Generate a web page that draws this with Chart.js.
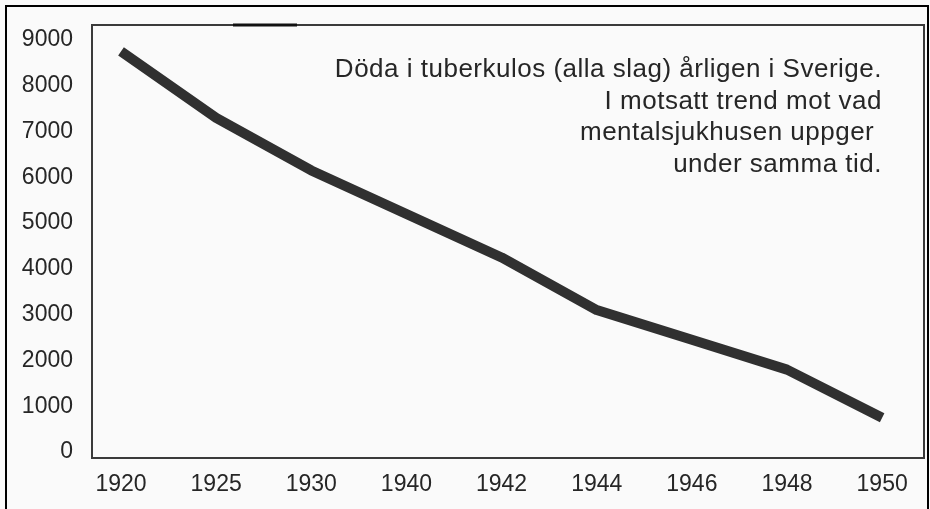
<!DOCTYPE html>
<html>
<head>
<meta charset="utf-8">
<script src="https://cdn.jsdelivr.net/npm/chart.js@4.4.1/dist/chart.umd.min.js"></script>
<style>
  html, body { margin: 0; padding: 0; background: #fafafa; overflow: hidden; }
  #wrap { position: relative; width: 930px; height: 509px; }
  #frame { position: absolute; left: 5px; top: 5px; width: 924px; height: 520px; border: 2px solid #000; box-sizing: border-box; pointer-events: none; }
  canvas { position: absolute; left: 0; top: 0; }
</style>
</head>
<body>
<div id="wrap">
  <canvas id="chart" width="930" height="509"></canvas>
  <div id="frame"></div>
</div>
<script>
const years = ['1920', '1925', '1930', '1940', '1942', '1944', '1946', '1948', '1950'];
const deaths = [8750, 7300, 6150, 5200, 4250, 3100, 2450, 1800, 750];
const yTicks = [0, 1000, 2000, 3000, 4000, 5000, 6000, 7000, 8000, 9000];
const noteLines = [
  'Döda i tuberkulos (alla slag) årligen i Sverige.',
  'I motsatt trend mot vad',
  'mentalsjukhusen uppger ',
  'under samma tid.'
];

const textColor = '#262626';
const font = { family: '"Liberation Sans", Arial, sans-serif', size: 23 };

// box round the plot + the note in the top right corner
const plotFrame = {
  id: 'plotFrame',
  afterDraw(chart) {
    const { ctx, chartArea: a } = chart;
    ctx.save();
    ctx.strokeStyle = '#3a3a3a';
    ctx.lineWidth = 2;
    ctx.strokeRect(a.left, a.top, a.right - a.left, a.bottom - a.top);
    // darker scan streak on the top edge
    ctx.strokeStyle = '#111';
    ctx.lineWidth = 3;
    ctx.beginPath();
    ctx.moveTo(a.left + 141, a.top);
    ctx.lineTo(a.left + 205, a.top);
    ctx.stroke();

    ctx.fillStyle = textColor;
    ctx.font = '26px "Liberation Sans", Arial, sans-serif';
    ctx.letterSpacing = '0.5px';
    ctx.textAlign = 'right';
    ctx.textBaseline = 'middle';
    noteLines.forEach((line, i) => {
      ctx.fillText(line, a.right - 42, a.top + 45 + i * 31.5);
    });
    ctx.restore();
  }
};

const noPad = (scale) => {
  scale.paddingTop = 0;
  scale.paddingBottom = 0;
  scale.paddingLeft = 0;
  scale.paddingRight = 0;
};

new Chart(document.getElementById('chart'), {
  type: 'line',
  data: {
    datasets: [{
      data: deaths.map((v, i) => ({ x: i, y: v })),
      borderColor: '#303030',
      borderWidth: 10,
      borderCapStyle: 'butt',
      borderJoinStyle: 'round',
      pointRadius: 0,
      tension: 0,
      fill: false
    }]
  },
  options: {
    responsive: false,
    animation: false,
    events: [],
    layout: { padding: { top: 25, right: 6, left: 0, bottom: 0 } },
    plugins: { legend: { display: false }, tooltip: { enabled: false } },
    scales: {
      x: {
        type: 'linear',
        min: -0.305,
        max: 8.44,
        afterBuildTicks: (scale) => { scale.ticks = years.map((_, i) => ({ value: i })); },
        afterFit: (scale) => { scale.height = 51; noPad(scale); },
        grid: { display: false, drawTicks: false },
        border: { display: false },
        ticks: {
          padding: 13,
          color: textColor,
          font: font,
          maxRotation: 0,
          autoSkip: false,
          callback: (v) => years[v]
        }
      },
      y: {
        min: -131,
        max: 9328,
        afterBuildTicks: (scale) => { scale.ticks = yTicks.map(v => ({ value: v })); },
        afterFit: (scale) => { scale.width = 92; noPad(scale); },
        grid: { display: false, drawTicks: false },
        border: { display: false },
        ticks: {
          padding: 19,
          color: textColor,
          font: font,
          callback: (v) => String(v)
        }
      }
    }
  },
  plugins: [plotFrame]
});
</script>
</body>
</html>
